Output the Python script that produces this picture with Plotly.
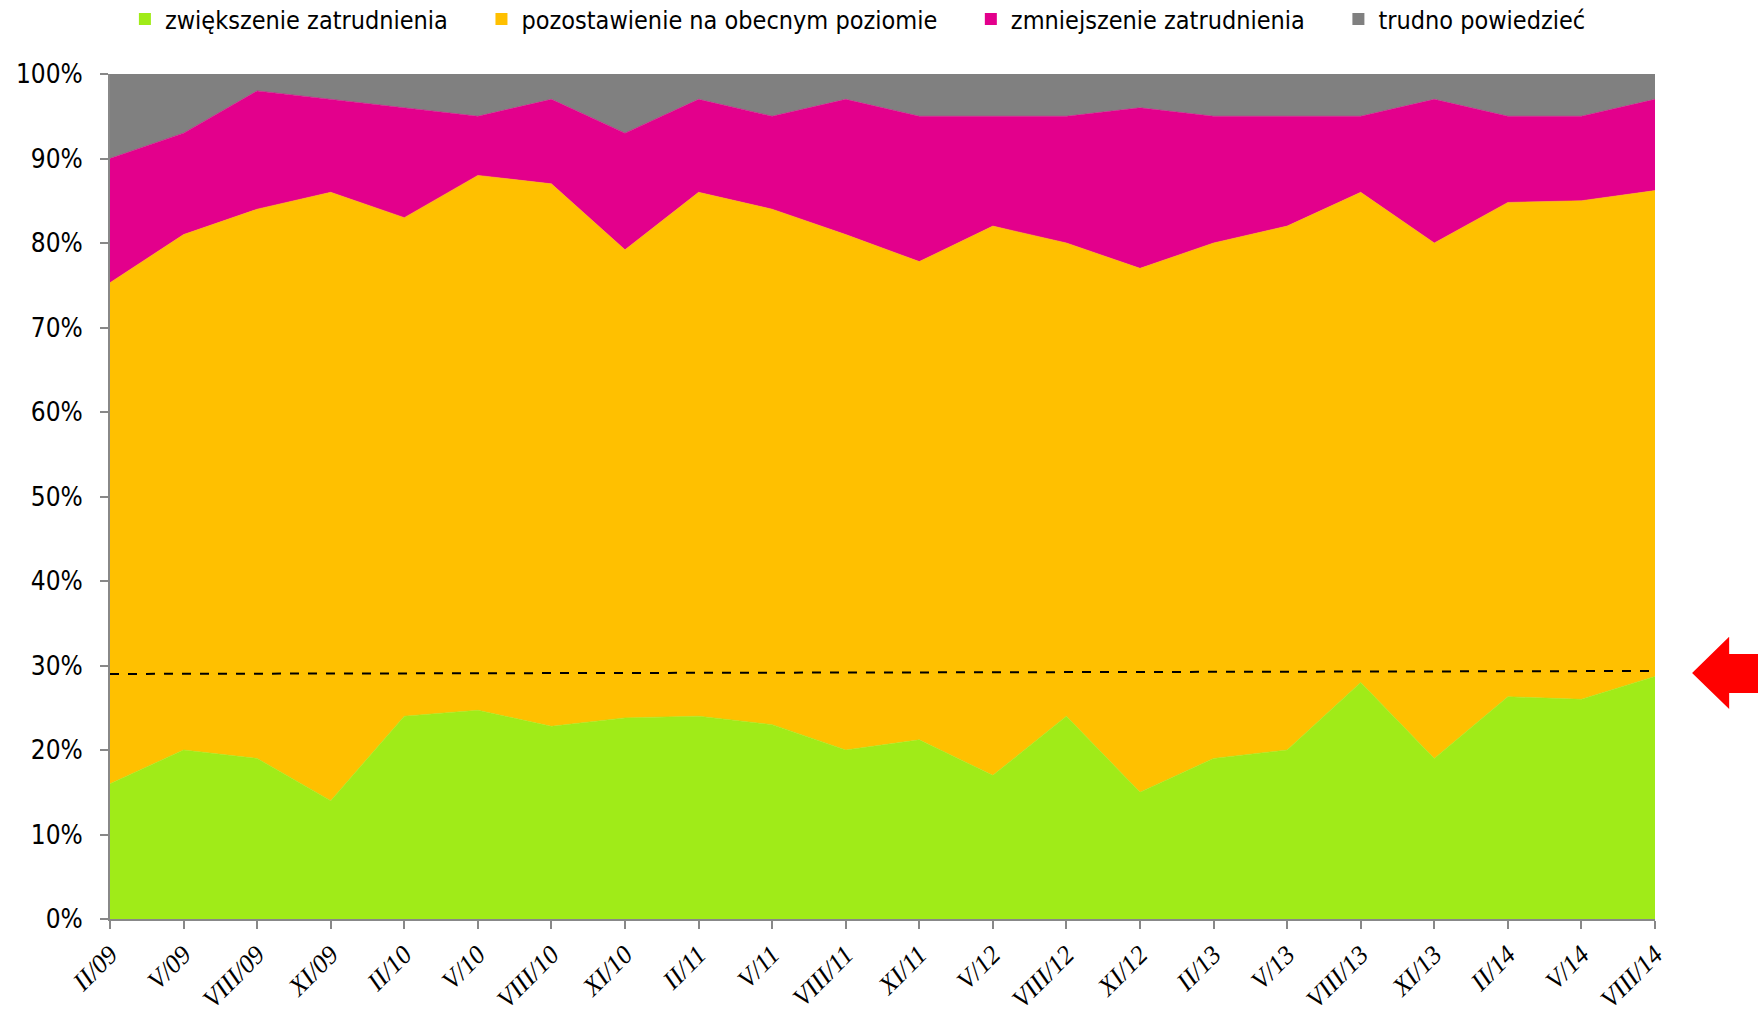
import plotly.graph_objects as go

categories = ["II/09", "V/09", "VIII/09", "XI/09", "II/10", "V/10", "VIII/10", "XI/10",
              "II/11", "V/11", "VIII/11", "XI/11", "V/12", "VIII/12", "XI/12", "II/13",
              "V/13", "VIII/13", "XI/13", "II/14", "V/14", "VIII/14"]

zwiekszenie = [16, 20, 19, 14, 24, 24.7, 22.8, 23.8, 24, 23, 20, 21.2, 17, 24, 15, 19,
               20, 28, 19, 26.3, 26, 28.7]
pozostawienie = [59.3, 61, 65, 72, 59, 63.3, 64.2, 55.4, 62, 61, 61, 56.6, 65, 56, 62, 61,
                 62, 58, 61, 58.5, 59, 57.5]
zmniejszenie = [14.7, 12, 14, 11, 13, 7, 10, 13.8, 11, 11, 16, 17.2, 13, 15, 19, 15,
                13, 9, 17, 10.2, 10, 10.8]
trudno = [10, 7, 2, 3, 4, 5, 3, 7, 3, 5, 3, 5, 5, 5, 4, 5, 5, 5, 3, 5, 5, 3]

trend_start = 29.0
trend_end = 29.35

names = ["zwiększenie zatrudnienia", "pozostawienie na obecnym poziomie",
         "zmniejszenie zatrudnienia", "trudno powiedzieć"]
colors = ["#A0EB18", "#FFC000", "#E3008C", "#808080"]
series = [zwiekszenie, pozostawienie, zmniejszenie, trudno]

fig = go.Figure()
for name, col, vals in zip(names, colors, series):
    fig.add_trace(go.Scatter(x=categories, y=vals, stackgroup="one", mode="lines",
                             line=dict(width=0.6, color=col), fillcolor=col,
                             name=name, showlegend=False))
pad = "\u00a0\u00a0\u00a0\u00a0"
for i, (name, col) in enumerate(zip(names, colors)):
    label = name + (pad if i < len(names) - 1 else "")
    fig.add_trace(go.Scatter(x=[None], y=[None], mode="markers", name=label,
                             marker=dict(symbol="square", size=12, color=col)))

fig.add_trace(go.Scatter(x=[categories[0], categories[-1]], y=[trend_start, trend_end],
                         mode="lines", line=dict(color="black", width=2, dash="dash"),
                         showlegend=False))

# red arrow pointing left, outside the plot on the right
arrow = ("M 1.024 0.291 L 1.048 0.334 L 1.048 0.3136 L 1.07 0.3136 "
         "L 1.07 0.2675 L 1.048 0.2675 L 1.048 0.2485 Z")
fig.add_shape(type="path", path=arrow, xref="paper", yref="paper",
              fillcolor="#FF0000", line=dict(width=0))

fig.update_layout(
    width=1758, height=1015,
    margin=dict(l=110, r=103, t=74, b=96, autoexpand=False),
    plot_bgcolor="white", paper_bgcolor="white",
    font=dict(family="Liberation Sans Narrow, DejaVu Sans Condensed, Liberation Sans, sans-serif",
              color="black"),
    legend=dict(orientation="h", xref="container", yref="container",
                x=0.488, xanchor="center", y=0.981, yanchor="middle",
                font=dict(size=25), itemwidth=30, tracegroupgap=0, traceorder="normal"),
    xaxis=dict(type="category", range=[0, len(categories) - 1],
               tickmode="array", tickvals=categories, ticktext=categories,
               tickangle=-45, ticks="outside", ticklen=8, tickwidth=2, tickcolor="#888888",
               showline=True, linecolor="#888888", linewidth=2, showgrid=False,
               tickfont=dict(family="Liberation Serif, serif", size=26, style="italic"),
               zeroline=False, automargin=False),
    yaxis=dict(range=[0, 100], dtick=10, ticksuffix="%", ticks="outside", ticklen=8,
               tickwidth=2, tickcolor="#888888", showline=True, linecolor="#888888",
               linewidth=2, showgrid=False, zeroline=False, automargin=False,
               ticklabelstandoff=12, tickfont=dict(size=26)),
)

fig.write_html("out.html", config={"displayModeBar": False},
               post_script="document.body.style.margin='0';")
